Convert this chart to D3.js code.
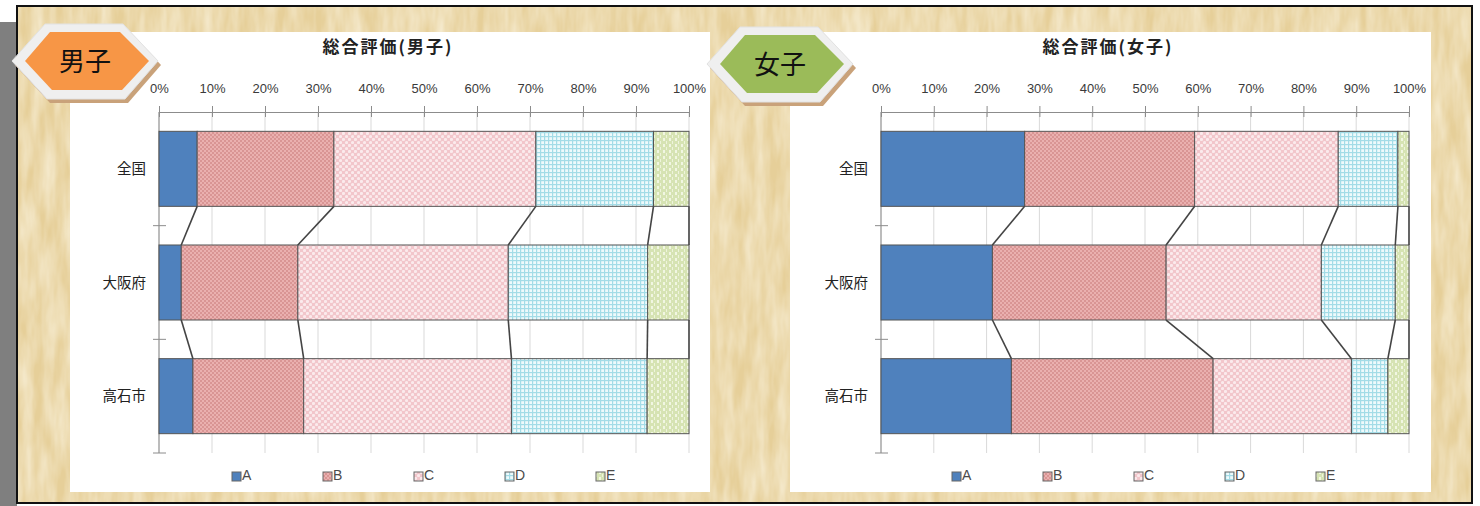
<!doctype html>
<html lang="ja">
  <head>
    <meta charset="utf-8">
    <title>総合評価</title>
    <script src="https://d3js.org/d3.v7.min.js"></script>
    <style>
      body { margin: 0; background: #fff; }
      text { font-family: "Noto Sans CJK JP", "Noto Sans", sans-serif; }
      .tick-label { font-family: "Liberation Sans", Arial, sans-serif; font-size: 13px; fill: #3a3a3a; }
      .legend-label { font-family: "Liberation Sans", Arial, sans-serif; font-size: 14px; fill: #4a4a4a; }
    </style>
  </head>
  <body>
    <script>
      // data (percent)
      var categories = ['全国', '大阪府', '高石市'];
      var grades = ['A', 'B', 'C', 'D', 'E'];
      var tickValues = [0, 10, 20, 30, 40, 50, 60, 70, 80, 90, 100];

      var maleA = [7.2, 4.2, 6.4];
      var maleB = [25.8, 22.0, 20.9];
      var maleC = [38.1, 39.7, 39.2];
      var maleD = [22.2, 26.3, 25.6];
      var maleE = [6.7, 7.8, 7.9];

      var femaleA = [27.2, 21.1, 24.7];
      var femaleB = [32.2, 32.9, 38.2];
      var femaleC = [27.2, 29.4, 26.2];
      var femaleD = [11.3, 14.0, 6.9];
      var femaleE = [2.1, 2.6, 4.0];

      var W = 1480, H = 506;
      var svg = d3.select('body').append('svg')
        .attr('width', W).attr('height', H);
      var defs = svg.append('defs');

      // paper texture
      var f = defs.append('filter').attr('id', 'paper')
        .attr('x', 0).attr('y', 0).attr('width', '100%').attr('height', '100%');
      f.append('feTurbulence').attr('type', 'fractalNoise')
        .attr('baseFrequency', '0.09 0.02').attr('numOctaves', 3).attr('seed', 4);
      f.append('feColorMatrix').attr('type', 'matrix')
        .attr('values', '0 0 0 0 0.99  0 0 0 0 0.95  0 0 0 0 0.83  0.9 0 0 0 -0.2');

      // fill patterns for the five grades
      function pattern(id, size, bg, draw) {
        var p = defs.append('pattern').attr('id', id)
          .attr('patternUnits', 'userSpaceOnUse')
          .attr('width', size).attr('height', size);
        p.append('rect').attr('width', size).attr('height', size).attr('fill', bg);
        draw(p);
      }
      pattern('patB', 4, '#eab0af', function(p) {
        p.append('rect').attr('width', 2).attr('height', 2).attr('fill', '#d99594');
        p.append('rect').attr('x', 2).attr('y', 2).attr('width', 2).attr('height', 2).attr('fill', '#d99594');
      });
      pattern('patC', 6, '#f2c6cb', function(p) {
        p.append('circle').attr('cx', 1.5).attr('cy', 1.5).attr('r', 1.6).attr('fill', '#fbeaec');
        p.append('circle').attr('cx', 4.5).attr('cy', 4.5).attr('r', 1.6).attr('fill', '#fbeaec');
      });
      pattern('patD', 4, '#eefafc', function(p) {
        p.append('rect').attr('width', 4).attr('height', 1.2).attr('fill', '#a3dce7');
        p.append('rect').attr('width', 1.2).attr('height', 4).attr('fill', '#a3dce7');
      });
      pattern('patE', 6, '#d6e3b3', function(p) {
        p.append('rect').attr('x', 3).attr('y', 0).attr('width', 2).attr('height', 3).attr('fill', '#f1f6e2');
        p.append('rect').attr('x', 0).attr('y', 3).attr('width', 1).attr('height', 3).attr('fill', '#eef4dc');
      });
      var fills = ['#4f81bd', 'url(#patB)', 'url(#patC)', 'url(#patD)', 'url(#patE)'];

      // background
      svg.append('rect').attr('width', W).attr('height', H).attr('fill', '#fff');
      svg.append('rect').attr('x', 0).attr('y', 22).attr('width', 17).attr('height', H - 22).attr('fill', '#7f7f7f');
      svg.append('rect').attr('x', 17).attr('y', 6).attr('width', 1455).attr('height', 497).attr('fill', '#e6cf99');
      svg.append('rect').attr('x', 17).attr('y', 6).attr('width', 1455).attr('height', 497).attr('filter', 'url(#paper)');
      svg.append('rect').attr('x', 17).attr('y', 6).attr('width', 1455).attr('height', 497)
        .attr('fill', 'none').attr('stroke', '#111').attr('stroke-width', 2);

      svg.append('rect').attr('x', 70).attr('y', 32).attr('width', 640).attr('height', 460).attr('fill', '#fff');
      svg.append('rect').attr('x', 790).attr('y', 32).attr('width', 641).attr('height', 460).attr('fill', '#fff');

      function drawChart(cfg) {
        var g = svg.append('g');
        var x = d3.scaleLinear().domain([0, 100]).range([cfg.x0, cfg.x1]);
        var y = d3.scaleBand().domain(categories).range([112, 453])
          .paddingInner(0.34).paddingOuter(0.17);

        var rows = categories.map(function(c, i) {
          var r = { cat: c };
          grades.forEach(function(k, j) { r[k] = cfg.series[j][i]; });
          return r;
        });
        var stacked = d3.stack().keys(grades)(rows);

        g.append('text').attr('x', cfg.titleX).attr('y', 53)
          .attr('text-anchor', 'middle').attr('font-size', 17).attr('font-weight', 'bold')
          .attr('letter-spacing', 2).attr('fill', '#222').text(cfg.title);

        // gridlines
        g.selectAll('line.grid').data(tickValues).enter().append('line')
          .attr('x1', function(d) { return x(d); }).attr('x2', function(d) { return x(d); })
          .attr('y1', 112).attr('y2', 453)
          .attr('stroke', '#d9d9d9').attr('stroke-width', 1);

        // top value axis
        var ax = g.append('g').attr('transform', 'translate(0,112)')
          .call(d3.axisTop(x).tickValues(tickValues).tickSizeInner(6).tickSizeOuter(0)
            .tickFormat(function(d) { return d + '%'; }));
        ax.select('.domain').attr('stroke', '#8c8c8c');
        ax.selectAll('.tick line').attr('stroke', '#8c8c8c').attr('y2', 5).attr('y1', -6);
        ax.selectAll('.tick text').attr('class', 'tick-label').attr('y', -19).attr('dy', 0)
          .attr('font-family', null).attr('font-size', null).attr('fill', null);

        // category axis
        g.append('line').attr('x1', x(0)).attr('x2', x(0)).attr('y1', 112).attr('y2', 453)
          .attr('stroke', '#8c8c8c');
        var bounds = categories.map(function(c) { return y(c) - y.step() * y.paddingOuter() + y.step(); });
        g.selectAll('line.ctick').data(bounds).enter().append('line')
          .attr('x1', x(0) - 6).attr('x2', x(0) + 7)
          .attr('y1', function(d) { return d; }).attr('y2', function(d) { return d; })
          .attr('stroke', '#8c8c8c');
        g.selectAll('text.cat').data(categories).enter().append('text')
          .attr('x', x(0) - 13).attr('y', function(d) { return y(d) + y.bandwidth() / 2 + 5; })
          .attr('text-anchor', 'end').attr('font-size', 14.5).attr('fill', '#222')
          .text(function(d) { return d; });

        // bars
        stacked.forEach(function(s, j) {
          g.selectAll('rect.s' + j).data(s).enter().append('rect')
            .attr('x', function(d) { return x(d[0]); })
            .attr('width', function(d) { return x(d[1]) - x(d[0]); })
            .attr('y', function(d) { return y(d.data.cat); })
            .attr('height', y.bandwidth())
            .attr('fill', fills[j])
            .attr('stroke', '#555').attr('stroke-width', 1);
        });

        // series lines between bars
        stacked.forEach(function(s) {
          for (var i = 0; i < s.length - 1; i++) {
            g.append('line')
              .attr('x1', x(s[i][1])).attr('y1', y(categories[i]) + y.bandwidth())
              .attr('x2', x(s[i + 1][1])).attr('y2', y(categories[i + 1]))
              .attr('stroke', '#444').attr('stroke-width', 1.6);
          }
        });

        // legend
        var lg = g.selectAll('g.lg').data(grades).enter().append('g')
          .attr('transform', function(d, i) { return 'translate(' + (cfg.legendX + i * 91) + ',471)'; });
        lg.append('rect').attr('y', 1).attr('width', 9).attr('height', 9)
          .attr('fill', function(d, i) { return fills[i]; })
          .attr('stroke', '#666').attr('stroke-width', 1);
        lg.append('text').attr('class', 'legend-label').attr('x', 10).attr('y', 9)
          .text(function(d) { return d; });
      }

      drawChart({ x0: 159, x1: 689, titleX: 388, legendX: 232, title: '総合評価(男子)',
        series: [maleA, maleB, maleC, maleD, maleE] });
      drawChart({ x0: 881, x1: 1409, titleX: 1108, legendX: 952, title: '総合評価(女子)',
        series: [femaleA, femaleB, femaleC, femaleD, femaleE] });

      // hexagon badges
      function badge(dx, dy, fill, label) {
        var b = svg.append('g').attr('transform', 'translate(' + dx + ',' + dy + ')');
        var outer = [[12, 61], [45, 24], [123, 24], [158, 61], [125, 99], [47, 99]];
        var inner = [[25, 61], [50, 32], [120, 32], [149, 61], [122, 90], [52, 90]];
        var line = d3.line();
        b.append('path').attr('d', line(outer) + 'Z').attr('transform', 'translate(3,4)')
          .attr('fill', '#c9a27a');
        b.append('path').attr('d', line(outer) + 'Z').attr('fill', '#efefef')
          .attr('stroke', '#e2e2e2');
        b.append('path').attr('d', line(inner) + 'Z').attr('fill', fill);
        b.append('text').attr('x', 85).attr('y', 71).attr('text-anchor', 'middle')
          .attr('font-size', 26).attr('fill', '#111').text(label);
      }
      badge(0, 0, '#f79646', '男子');
      badge(695, 3, '#9bbb59', '女子');
    </script>
  </body>
</html>
